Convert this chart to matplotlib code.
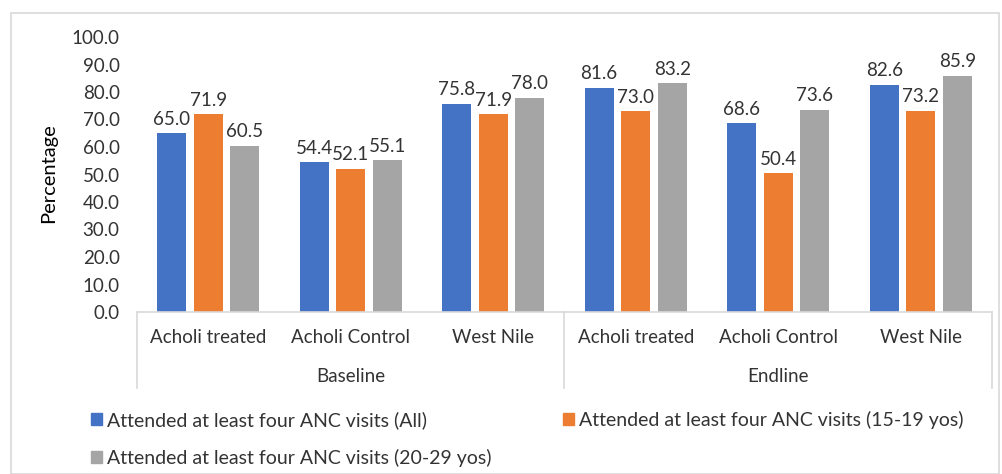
import matplotlib
matplotlib.use("Agg")
import matplotlib.pyplot as plt
from matplotlib.patches import Rectangle, Patch
import numpy as np

plt.rcParams['font.family'] = ['Lato', 'DejaVu Sans']

# Data
sites = ["Acholi treated", "Acholi Control", "West Nile",
         "Acholi treated", "Acholi Control", "West Nile"]
phases = ["Baseline", "Endline"]
series_names = ["Attended at least four ANC visits (All)",
                "Attended at least four ANC visits (15-19 yos)",
                "Attended at least four ANC visits (20-29 yos)"]
all_ages = [65.0, 54.4, 75.8, 81.6, 68.6, 82.6]
age_15_19 = [71.9, 52.1, 71.9, 73.0, 50.4, 73.2]
age_20_29 = [60.5, 55.1, 78.0, 83.2, 73.6, 85.9]
yticks = [0, 10, 20, 30, 40, 50, 60, 70, 80, 90, 100]

colors = ["#4472C4", "#ED7D31", "#A5A5A5"]
text_color = "#333333"
line_color = "#D9D9D9"
fs = 13.5

W, H = 1003, 474
fig = plt.figure(figsize=(W / 100, H / 100), dpi=100)

# outer chart frame
fig.patches.append(Rectangle((11 / W, 0 / H), (999 - 11) / W, (H - 13) / H,
                             transform=fig.transFigure, fill=False,
                             edgecolor="#D9D9D9", linewidth=1.2))

left, right, top, bottom = 137, 992, 37, 312
ax = fig.add_axes([left / W, 1 - bottom / H, (right - left) / W, (bottom - top) / H])

x = np.arange(len(sites))
bw = 0.204
step = 0.257
series = [all_ages, age_15_19, age_20_29]
for i, (vals, c, name) in enumerate(zip(series, colors, series_names)):
    pos = x + (i - 1) * step
    ax.bar(pos, vals, width=bw, color=c, label=name, zorder=2)
    for xp, v in zip(pos, vals):
        ax.annotate(f"{v:.1f}", (xp, v), xytext=(0, 4), textcoords="offset points",
                    ha="center", va="bottom", fontsize=fs, color=text_color)

ax.set_xlim(-0.5, len(sites) - 0.5)
ax.set_ylim(0, 100)
ax.set_yticks(yticks)
ax.set_yticklabels([f"{t:.1f}" for t in yticks], fontsize=fs, color=text_color)
ax.tick_params(axis="y", length=0, pad=12.5)
ax.set_xticks(x)
ax.set_xticklabels(sites, fontsize=fs, color=text_color)
ax.tick_params(axis="x", length=0, pad=12)
for s in ["left", "top", "right"]:
    ax.spines[s].set_visible(False)
ax.spines["bottom"].set_color(line_color)
ax.spines["bottom"].set_linewidth(1.2)

ax.set_ylabel("Percentage", fontsize=14.5, color="#000000")
ax.yaxis.set_label_coords((57 - left) / (right - left), (bottom - 173) / (bottom - top))

# group separators and phase labels
sep_depth = (388 - bottom) / (bottom - top)
for xs in [-0.5, 2.5, 5.5]:
    ax.axvline(xs, ymin=-sep_depth, ymax=0, color=line_color, linewidth=1.2, clip_on=False)
for k, ph in enumerate(phases):
    ax.text(1 + 3 * k, -(377 - bottom) / (bottom - top), ph,
            transform=ax.get_xaxis_transform(), ha="center", va="center",
            fontsize=fs, color=text_color)

# legend: row 1 = All, 15-19; row 2 = 20-29
leg_handles = [Patch(color=c) for c in colors]
order = [0, 2, 1]
fig.legend([leg_handles[i] for i in order], [series_names[i] for i in order],
           ncol=2, loc="upper left", bbox_to_anchor=(91 / W, 1 - 411 / H),
           frameon=False, fontsize=14, handlelength=0.55, handleheight=0.55,
           handletextpad=0.25, columnspacing=3.7, labelspacing=1.0,
           labelcolor=text_color, borderaxespad=0, borderpad=0)

fig.savefig("out.png", dpi=100)
